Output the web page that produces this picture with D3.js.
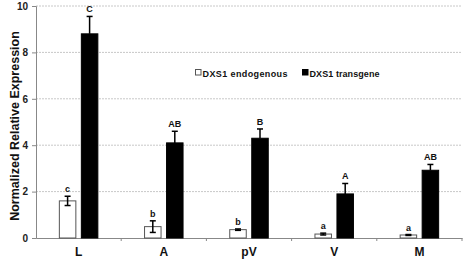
<!DOCTYPE html>
<html>
<head>
<meta charset="utf-8">
<script src="https://cdn.jsdelivr.net/npm/d3@7"></script>
<style>
  body { margin: 0; background: #fff; }
  text { font-family: Arial, "Liberation Sans", sans-serif; }
</style>
</head>
<body>
<svg id="chart" width="464" height="259"></svg>
<script>
const categories = ["L", "A", "pV", "V", "M"]
const endoValues = [1.6, 0.49, 0.36, 0.17, 0.13]
const endoErrors = [0.2, 0.25, 0.03, 0.04, 0.02]
const transValues = [8.8, 4.1, 4.3, 1.9, 2.92]
const transErrors = [0.75, 0.5, 0.4, 0.45, 0.25]
const endoLetters = ["c", "b", "b", "a", "a"]
const transLetters = ["C", "AB", "B", "A", "AB"]
const yTicks = [0, 2, 4, 6, 8, 10]
const seriesNames = ["DXS1 endogenous", "DXS1 transgene"]

let svg = d3.select("#chart")
let margin = { top: 6, right: 2, bottom: 21, left: 36 }
let width = 464 - margin.left - margin.right
let height = 259 - margin.top - margin.bottom

let g = svg.append("g")
    .attr("transform", "translate(" + margin.left + "," + margin.top + ")")

// 比例尺
let xScale = d3.scaleBand().domain(categories).range([0, width])
let yScale = d3.scaleLinear().domain([0, 10]).range([height, 0])

// 网格线
g.selectAll(".grid")
    .data(yTicks.filter(d => d > 0))
    .enter()
    .append("line")
    .attr("x1", 0)
    .attr("x2", width)
    .attr("y1", d => yScale(d))
    .attr("y2", d => yScale(d))
    .attr("stroke", "#c8c8c8")
    .attr("stroke-width", 1)
    .attr("stroke-dasharray", "2,1")

// y轴
let yAxis = g.append("g")
    .call(d3.axisLeft(yScale).tickValues(yTicks).tickSize(4).tickFormat(d3.format("d")))
yAxis.select(".domain").attr("stroke", "#888")
yAxis.selectAll(".tick line").attr("stroke", "#888")
yAxis.selectAll(".tick text")
    .attr("font-size", 10)
    .attr("font-weight", "bold")
    .attr("fill", "#222")
    .attr("x", -8)

// x轴
let xAxis = g.append("g")
    .attr("transform", "translate(0," + height + ")")
    .call(d3.axisBottom(xScale).tickSize(0).tickPadding(9))
xAxis.select(".domain").attr("stroke", "#888")
xAxis.selectAll(".tick text")
    .attr("font-size", 12)
    .attr("font-weight", "bold")
    .attr("fill", "#111")
// 类别之间的刻度
g.selectAll(".xtick")
    .data(categories.slice(1).concat(["end"]))
    .enter()
    .append("line")
    .attr("x1", (d, i) => xScale.step() * (i + 1))
    .attr("x2", (d, i) => xScale.step() * (i + 1))
    .attr("y1", height)
    .attr("y2", height + 3)
    .attr("stroke", "#888")

let barW = 16.5
let gap = 5.5
function barX(c, s) {
    let center = xScale(c) + xScale.bandwidth() / 2
    return s == 0 ? center - gap / 2 - barW : center + gap / 2
}

let series = [
    { values: endoValues, errors: endoErrors, letters: endoLetters, fill: "#fff" },
    { values: transValues, errors: transErrors, letters: transLetters, fill: "#000" }
]

series.forEach((s, si) => {
    let sg = g.append("g")
    let data = categories.map((c, i) => ({ c: c, v: s.values[i], e: s.errors[i], l: s.letters[i] }))

    // 柱子
    sg.selectAll("rect")
        .data(data)
        .enter()
        .append("rect")
        .attr("x", d => barX(d.c, si))
        .attr("y", d => yScale(d.v))
        .attr("width", barW)
        .attr("height", d => height - yScale(d.v))
        .attr("fill", s.fill)
        .attr("stroke", si == 0 ? "#555" : "#000")
        .attr("stroke-width", 1)

    // 误差线
    data.forEach(d => {
        let cx = barX(d.c, si) + barW / 2
        let top = d.v + d.e
        let bottom = si == 0 ? d.v - d.e : d.v
        sg.append("line")
            .attr("x1", cx).attr("x2", cx)
            .attr("y1", yScale(top)).attr("y2", yScale(bottom))
            .attr("stroke", "#000").attr("stroke-width", 1.5)
        sg.append("line")
            .attr("x1", cx - 3).attr("x2", cx + 3)
            .attr("y1", yScale(top)).attr("y2", yScale(top))
            .attr("stroke", "#000").attr("stroke-width", 1.5)
        if (si == 0) {
            sg.append("line")
                .attr("x1", cx - 3).attr("x2", cx + 3)
                .attr("y1", yScale(bottom)).attr("y2", yScale(bottom))
                .attr("stroke", "#000").attr("stroke-width", 1.5)
        }
        // 显著性字母
        sg.append("text")
            .attr("x", cx)
            .attr("y", yScale(d.v + d.e) - 4)
            .attr("text-anchor", "middle")
            .attr("font-size", 9)
            .attr("font-weight", "bold")
            .attr("fill", "#111")
            .text(d.l)
    })
})

// y轴标题
svg.append("text")
    .attr("transform", "translate(18.5,126) rotate(-90)")
    .attr("text-anchor", "middle")
    .attr("font-size", 12.5)
    .attr("font-weight", "bold")
    .attr("fill", "#111")
    .text("Normalized Relative Expression")

// 图例
let legend = svg.append("g").attr("transform", "translate(195,73)")
let legendX = [0, 107]
let legendLen = [85, 70]
seriesNames.forEach((name, i) => {
    let lg = legend.append("g").attr("transform", "translate(" + legendX[i] + ",0)")
    lg.append("rect")
        .attr("x", 0.5).attr("y", -3.5)
        .attr("width", 5.5).attr("height", 5.5)
        .attr("fill", i == 0 ? "#fff" : "#000")
        .attr("stroke", i == 0 ? "#555" : "#000")
    lg.append("text")
        .attr("x", 7.5).attr("y", 3.5)
        .attr("font-size", 9)
        .attr("font-weight", "bold")
        .attr("textLength", legendLen[i])
        .attr("lengthAdjust", "spacing")
        .attr("fill", "#111")
        .text(name)
})
</script>
</body>
</html>
